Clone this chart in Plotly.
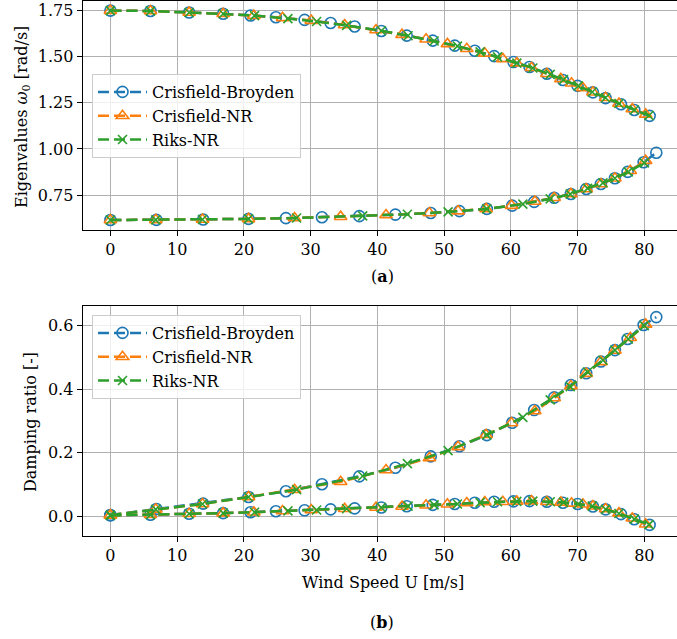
import plotly.graph_objects as go

W, H = 677, 639

# ---------------- data ----------------
# Branch A: upper frequency mode (low-damping branch)
# Branch B: lower frequency mode (rising-damping branch)

# Crisfield-Broyden
cb_xA = [0, 6.0, 11.8, 16.9, 21.0, 24.8, 29.1, 33.0, 36.6, 40.6, 44.4, 48.3, 51.6, 54.6,
         57.5, 60.4, 62.8, 65.4, 67.8, 70.0, 72.3, 74.2, 76.5, 78.5, 80.8]
cb_fA = [1.748, 1.746, 1.738, 1.731, 1.722, 1.712, 1.698, 1.681, 1.662, 1.638, 1.613, 1.586,
         1.559, 1.531, 1.502, 1.470, 1.443, 1.407, 1.373, 1.341, 1.306, 1.275, 1.242, 1.211, 1.179]
cb_dA = [0.002, 0.004, 0.007, 0.009, 0.012, 0.015, 0.018, 0.021, 0.024, 0.027, 0.031, 0.035,
         0.038, 0.042, 0.045, 0.046, 0.047, 0.045, 0.042, 0.038, 0.030, 0.021, 0.006, -0.010, -0.028]
cb_xB = [0, 6.9, 13.9, 20.7, 26.3, 31.7, 37.3, 42.7, 48.0, 52.3, 56.4, 60.2, 63.5, 66.5,
         69.0, 71.3, 73.5, 75.6, 77.5, 79.9, 81.8]
cb_fB = [0.616, 0.617, 0.619, 0.622, 0.626, 0.631, 0.637, 0.645, 0.654, 0.664, 0.676, 0.694,
         0.714, 0.736, 0.757, 0.784, 0.811, 0.842, 0.876, 0.928, 0.980]
cb_dB = [0.003, 0.022, 0.039, 0.060, 0.078, 0.100, 0.125, 0.152, 0.188, 0.220, 0.255, 0.294,
         0.334, 0.374, 0.413, 0.450, 0.487, 0.523, 0.558, 0.602, 0.627]

# Crisfield-NR
cn_xA = [0, 6.0, 11.8, 16.9, 21.5, 25.8, 30.1, 35.1, 39.8, 43.7, 47.3, 50.5, 53.4, 56.1,
         58.8, 60.9, 63.1, 65.4, 67.5, 69.1, 70.8, 72.3, 74.2, 76.2, 78.2, 80.2]
cn_fA = [1.748, 1.746, 1.738, 1.731, 1.721, 1.709, 1.694, 1.670, 1.643, 1.618, 1.593, 1.568,
         1.542, 1.517, 1.487, 1.464, 1.439, 1.407, 1.379, 1.355, 1.330, 1.307, 1.277, 1.246,
         1.216, 1.187]
cn_dA = [0.002, 0.004, 0.007, 0.009, 0.012, 0.016, 0.019, 0.023, 0.027, 0.030, 0.034, 0.037,
         0.041, 0.044, 0.045, 0.046, 0.047, 0.045, 0.043, 0.040, 0.037, 0.031, 0.022, 0.009,
         -0.007, -0.026]
cn_xB = [0, 6.8, 13.8, 20.7, 27.6, 34.5, 41.3, 47.8, 52.1, 56.3, 60.1, 63.6, 66.5, 69.0,
         71.3, 73.5, 75.6, 77.9, 80.2]
cn_fB = [0.616, 0.617, 0.619, 0.622, 0.627, 0.634, 0.643, 0.654, 0.664, 0.676, 0.694, 0.716,
         0.736, 0.757, 0.784, 0.811, 0.842, 0.882, 0.937]
cn_dB = [0.003, 0.021, 0.038, 0.060, 0.083, 0.108, 0.145, 0.183, 0.218, 0.256, 0.293, 0.331,
         0.372, 0.410, 0.449, 0.486, 0.522, 0.562, 0.604]

# Riks-NR
rk_xA = [0, 6.0, 11.8, 16.9, 21.6, 26.6, 30.9, 35.4, 40.6, 44.6, 48.5, 52.0, 55.4, 58.0,
         60.9, 63.3, 65.9, 67.9, 70.1, 72.2, 74.2, 76.2, 78.5, 80.7]
rk_fA = [1.748, 1.746, 1.738, 1.731, 1.721, 1.705, 1.689, 1.668, 1.639, 1.612, 1.584, 1.556,
         1.525, 1.498, 1.464, 1.438, 1.403, 1.375, 1.341, 1.308, 1.277, 1.246, 1.211, 1.181]
rk_dA = [0.002, 0.004, 0.007, 0.009, 0.012, 0.016, 0.019, 0.023, 0.027, 0.031, 0.035, 0.038,
         0.042, 0.045, 0.046, 0.047, 0.045, 0.043, 0.038, 0.031, 0.021, 0.008, -0.010, -0.027]
rk_xB = [0, 6.8, 13.8, 20.7, 27.9, 37.8, 44.5, 50.6, 56.4, 61.8, 65.9, 68.9, 71.5, 73.8,
         75.6, 77.6, 80.0]
rk_fB = [0.616, 0.617, 0.619, 0.622, 0.627, 0.638, 0.647, 0.660, 0.676, 0.702, 0.730, 0.756,
         0.787, 0.817, 0.842, 0.876, 0.925]
rk_dB = [0.003, 0.021, 0.038, 0.060, 0.083, 0.126, 0.165, 0.206, 0.256, 0.311, 0.366, 0.408,
         0.454, 0.491, 0.523, 0.558, 0.600]

series_names = ["Crisfield-Broyden", "Crisfield-NR", "Riks-NR"]
colors = ["#1f77b4", "#ff7f0e", "#2ca02c"]
symbols = ["circle-open", "triangle-up-open", "x-thin-open"]
msizes = [11, 11, 9]

xtick_vals = [0, 10, 20, 30, 40, 50, 60, 70, 80]
top_ytick_vals = [0.75, 1.00, 1.25, 1.50, 1.75]
bot_ytick_vals = [0.0, 0.2, 0.4, 0.6]

data = [
    (cb_xA, cb_fA, cb_dA, cb_xB, cb_fB, cb_dB),
    (cn_xA, cn_fA, cn_dA, cn_xB, cn_fB, cn_dB),
    (rk_xA, rk_fA, rk_dA, rk_xB, rk_fB, rk_dB),
]

FONT = "'DejaVu Serif', 'Liberation Serif', serif"
FS = 16

fig = go.Figure()
for i, (name, col, sym, ms) in enumerate(zip(series_names, colors, symbols, msizes)):
    xA, fA, dA, xB, fB, dB = data[i]
    for (xx, yy, xa, ya, leg) in [(xA, fA, "x", "y", "legend"), (xB, fB, "x", "y", "legend"),
                                  (xA, dA, "x2", "y2", "legend2"), (xB, dB, "x2", "y2", "legend2")]:
        show = (xx is xA)
        fig.add_trace(go.Scatter(
            x=xx, y=yy, xaxis=xa, yaxis=ya, name=name, legend=leg,
            showlegend=show, legendgroup=name + leg,
            mode="lines+markers",
            line=dict(color=col, width=2.5, dash="11px,5px"),
            marker=dict(symbol=sym, size=ms, color=col, line=dict(color=col, width=1.6)),
        ))

def px_x(p):
    return p / W

def px_y(p):
    return 1 - p / H

xdom = [px_x(82.7), 1.0]
axis_common = dict(
    showline=True, linecolor="black", linewidth=1.2,
    ticks="outside", ticklen=5, tickwidth=1, tickcolor="black",
    showgrid=True, gridcolor="#b0b0b0", gridwidth=1,
    zeroline=False,
    tickfont=dict(family=FONT, size=FS, color="black"),
)

fig.update_layout(
    width=W, height=H,
    margin=dict(l=0, r=0, t=0, b=0),
    paper_bgcolor="white", plot_bgcolor="white",
    font=dict(family=FONT, size=FS, color="black"),
    xaxis=dict(domain=xdom, range=[-4.15, 84.9], anchor="y", tickvals=xtick_vals,
               mirror=True, **axis_common),
    yaxis=dict(domain=[px_y(230), px_y(1)], range=[0.562, 1.800], anchor="x",
               tickvals=top_ytick_vals, tickformat=".2f", **axis_common),
    xaxis2=dict(domain=xdom, range=[-4.15, 84.9], anchor="y2", tickvals=xtick_vals,
                mirror=True, **axis_common),
    yaxis2=dict(domain=[px_y(536), px_y(305.7)], range=[-0.063, 0.663], anchor="x2",
                tickvals=bot_ytick_vals, tickformat=".1f", **axis_common),
    legend=dict(x=px_x(92), y=px_y(74), xanchor="left", yanchor="top",
                bgcolor="rgba(255,255,255,0.8)", bordercolor="#cccccc", borderwidth=1,
                font=dict(family=FONT, size=FS, color="black"), itemwidth=49,
                tracegroupgap=0),
    legend2=dict(x=px_x(92), y=px_y(315), xanchor="left", yanchor="top",
                 bgcolor="rgba(255,255,255,0.8)", bordercolor="#cccccc", borderwidth=1,
                 font=dict(family=FONT, size=FS, color="black"), itemwidth=49,
                 tracegroupgap=0),
)

ann = [
    dict(text="Eigenvalues <i>ω</i><sub>0</sub> [rad/s]", x=px_x(23), y=px_y(117), textangle=-90),
    dict(text="Damping ratio [-]", x=px_x(30), y=px_y(422), textangle=-90),
    dict(text="Wind Speed U [m/s]", x=px_x(383), y=px_y(582)),
    dict(text="(<b>a</b>)", x=px_x(382), y=px_y(276)),
    dict(text="(<b>b</b>)", x=px_x(382), y=px_y(622)),
]
for a in ann:
    fig.add_annotation(xref="paper", yref="paper", xanchor="center", yanchor="middle",
                       showarrow=False, font=dict(family=FONT, size=FS, color="black"), **a)

fig.write_html("out.html")
